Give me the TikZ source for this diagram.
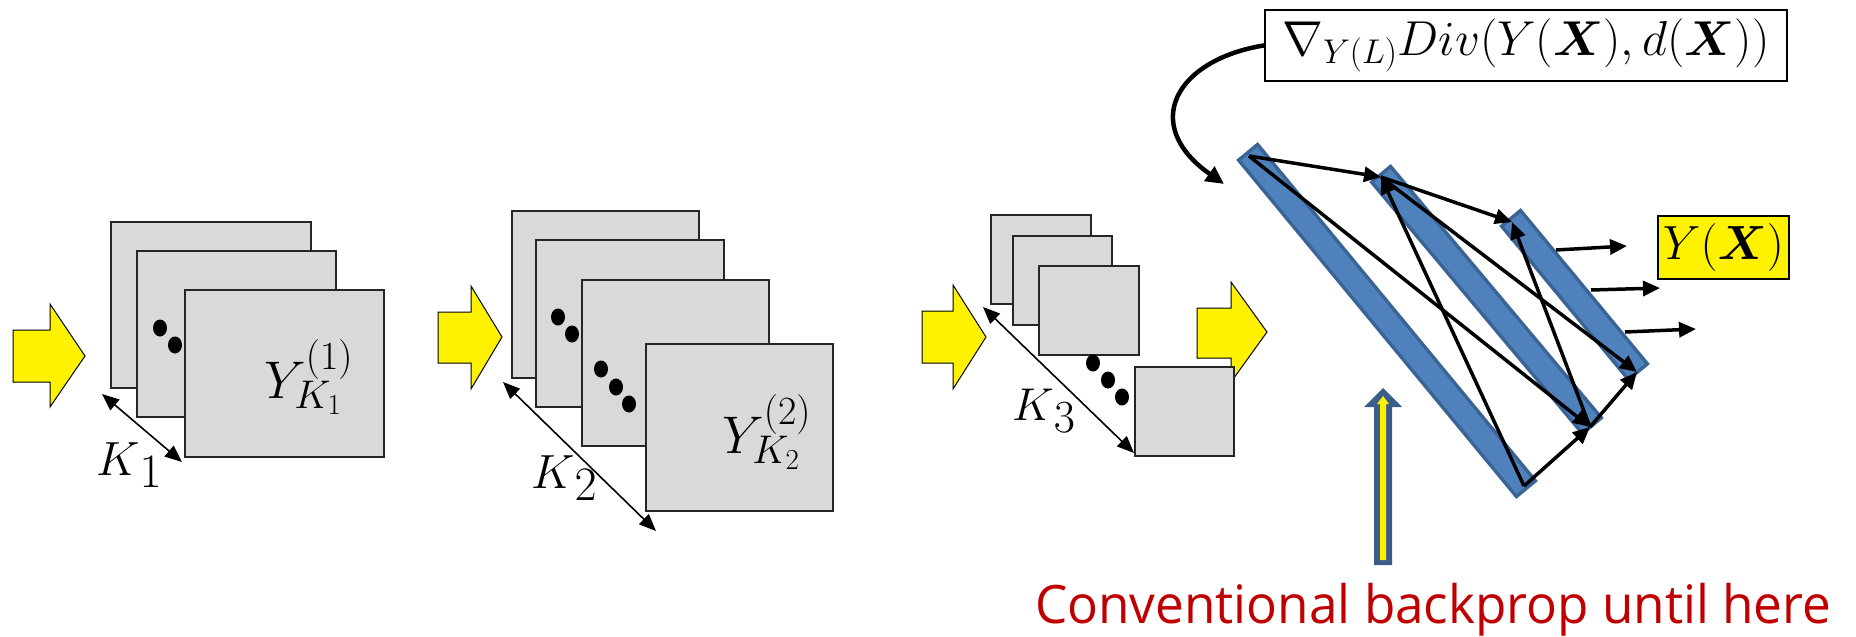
\RequirePackage{fix-cm}
\documentclass[tikz,border=0pt]{standalone}
\usepackage{fontspec}
\usepackage{bm}
\usetikzlibrary{arrows.meta}
\DeclareMathSizes{53}{53}{40}{29}
\newfontfamily\redfont{Open Sans}
\definecolor{boxgray}{HTML}{D9D9D9}
\definecolor{barfill}{HTML}{4F81BD}
\definecolor{barline}{HTML}{3A6396}
\definecolor{darkred}{HTML}{C00000}
\definecolor{arrowblue}{HTML}{3B5D8B}
\tikzset{
  fmap/.style={draw=black!85, line width=1.8, fill=boxgray},
  blockarrow/.style={draw=black, line width=1, fill=yellow},
  dimarrow/.style={{Triangle[length=17pt,width=14pt]}-{Triangle[length=17pt,width=14pt]}, line width=1.6},
  netarrow/.style={-{Triangle[length=17pt,width=15pt]}, line width=3.5},
  dotmark/.style={fill=black},
  barouter/.style={line width=28pt, draw=barline, line cap=butt},
  barinner/.style={line width=21pt, draw=barfill, line cap=butt, shorten <=3.5pt, shorten >=3.5pt},
  lbl/.style={anchor=base west, inner sep=0pt},
}
\begin{document}
\begin{tikzpicture}[x=1pt,y=-1pt]
\useasboundingbox (0,0) rectangle (1856,637);

% ---- yellow block arrows
\path[blockarrow] (13,330) -- (50,330) -- (50,304) -- (85,356) -- (50,407) -- (50,382) -- (13,382) -- cycle;
\path[blockarrow] (438,312) -- (471,312) -- (471,286) -- (502,337) -- (471,389) -- (471,363) -- (438,363) -- cycle;
\path[blockarrow] (922,311) -- (953,311) -- (953,285) -- (986,337) -- (953,389) -- (953,363) -- (922,363) -- cycle;
\path[blockarrow] (1197,308) -- (1231,308) -- (1231,282) -- (1267,332) -- (1231,382) -- (1231,358) -- (1197,358) -- cycle;

% ---- stack 1
\draw[fmap] (111,222) rectangle (311,388);
\draw[fmap] (137,251) rectangle (336,417);
\draw[fmap] (185,290) rectangle (384,457);
\fill[dotmark] (160,328) ellipse [x radius=7pt, y radius=8.5pt];
\fill[dotmark] (175,345) ellipse [x radius=7pt, y radius=8.5pt];
\node[lbl] (y1) at (264,398) {\fontsize{53}{60}\selectfont $Y_{K_1}^{(1)}$};
\coordinate (k1a) at (102,394);
\coordinate (k1b) at (182,462);
\draw[dimarrow] (k1a) -- (k1b);
\node[lbl] (k1) at (96,475) {\fontsize{48}{50}\selectfont $K$\raisebox{-12pt}{$1$}};

% ---- stack 2
\draw[fmap] (512,211) rectangle (699,378);
\draw[fmap] (536,240) rectangle (724,407);
\draw[fmap] (582,280) rectangle (769,446);
\draw[fmap] (646,344) rectangle (833,511);
\fill[dotmark] (558,317) ellipse [x radius=7pt, y radius=8.5pt];
\fill[dotmark] (572,334) ellipse [x radius=7pt, y radius=8.5pt];
\fill[dotmark] (601,369) ellipse [x radius=7pt, y radius=8.5pt];
\fill[dotmark] (616,387) ellipse [x radius=7pt, y radius=8.5pt];
\fill[dotmark] (629,404) ellipse [x radius=7pt, y radius=8.5pt];
\node[lbl] (y2) at (722,453) {\fontsize{53}{60}\selectfont $Y_{K_2}^{(2)}$};
\coordinate (k2a) at (503,382);
\coordinate (k2b) at (656,531);
\draw[dimarrow] (k2a) -- (k2b);
\node[lbl] (k2) at (531,488) {\fontsize{48}{50}\selectfont $K$\raisebox{-12pt}{$2$}};

% ---- stack 3
\draw[fmap] (991,215) rectangle (1091,304);
\draw[fmap] (1013,236) rectangle (1112,325);
\draw[fmap] (1039,266) rectangle (1139,355);
\draw[fmap] (1135,367) rectangle (1234,456);
\fill[dotmark] (1093,363) ellipse [x radius=7pt, y radius=8.5pt];
\fill[dotmark] (1108,380) ellipse [x radius=7pt, y radius=8.5pt];
\fill[dotmark] (1122,397) ellipse [x radius=7pt, y radius=8.5pt];
\coordinate (k3a) at (983,307);
\coordinate (k3b) at (1134,453);
\draw[dimarrow] (k3a) -- (k3b);
\node[lbl] (k3) at (1012,420) {\fontsize{46}{50}\selectfont $K$\raisebox{-12pt}{$3$}};

% ---- network bars
\coordinate (b1t) at (1247,151);
\coordinate (b1b) at (1527,490);
\coordinate (b2t) at (1380,173);
\coordinate (b2b) at (1593,427);
\coordinate (b3t) at (1510,217);
\coordinate (b3b) at (1639,373);
\draw[barouter] (b1t) -- (b1b);
\draw[barinner] (b1t) -- (b1b);
\draw[barouter] (b2t) -- (b2b);
\draw[barinner] (b2t) -- (b2b);
\draw[barouter] (b3t) -- (b3b);
\draw[barinner] (b3t) -- (b3b);

\coordinate (P1) at (1249,156);
\coordinate (P2) at (1381,177);
\coordinate (P3) at (1512,222);
\coordinate (Q1) at (1524,486);
\coordinate (Q2) at (1590,427);
\coordinate (Q3) at (1637,372);
\draw[netarrow] (P1) -- (P2);
\draw[netarrow] (P2) -- (P3);
\draw[netarrow] (P1) -- (Q2);
\draw[netarrow] (P2) -- (Q3);
\draw[netarrow] (Q1) -- (P2);
\draw[netarrow] (Q2) -- (P3);
\draw[netarrow] (Q1) -- (Q2);
\draw[netarrow] (Q2) -- (Q3);

% output arrows
\coordinate (o1s) at (1556,250); \coordinate (o1e) at (1627,246);
\coordinate (o2s) at (1591,290); \coordinate (o2e) at (1660,288);
\coordinate (o3s) at (1625,332); \coordinate (o3e) at (1696,329);
\draw[netarrow] (o1s) -- (o1e);
\draw[netarrow] (o2s) -- (o2e);
\draw[netarrow] (o3s) -- (o3e);

\node[draw=black, line width=1.8, fill=yellow, anchor=north west, minimum width=131pt, minimum height=63pt, inner sep=0pt] (yx) at (1657,215)
  {\fontsize{48}{56}\selectfont $Y(\bm{X})$};

% ---- formula box and curved arrow
\node[draw=black, line width=1.8, fill=white, anchor=north west, minimum width=522pt, minimum height=71pt, inner sep=0pt] (formula) at (1264,9)
  {\fontsize{49}{58}\selectfont $\nabla_{Y(L)}Div(Y(\bm{X}),d(\bm{X}))$};
\coordinate (ctip) at (1224,184);
\draw[line width=4.5, -{Triangle[length=18pt,width=17pt]}] (formula.west) .. controls (1175,60) and (1140,125) .. (ctip);

% ---- vertical marker arrow
\fill[arrowblue] (1374,565) -- (1374,407) -- (1364,407) -- (1383,388) -- (1402,407) -- (1392,407) -- (1392,565) -- cycle;
\fill[yellow] (1380,560) -- (1380,404) -- (1377,404) -- (1383,396) -- (1389,404) -- (1386,404) -- (1386,560) -- cycle;

\node[lbl, text=darkred] (note) at (1035,623)
  {\resizebox{796pt}{\height}{\redfont\fontsize{53}{60}\selectfont Conventional backprop until here}};
\end{tikzpicture}
\end{document}
